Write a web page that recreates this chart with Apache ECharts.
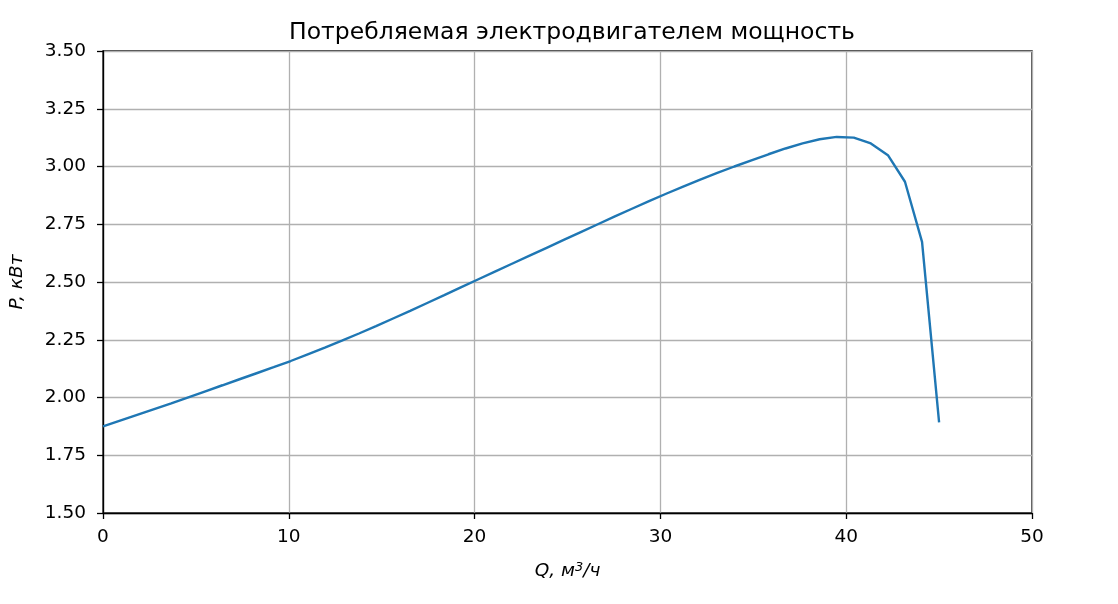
<!DOCTYPE html>
<html>
<head>
<meta charset="utf-8">
<script src="https://cdn.jsdelivr.net/npm/echarts@6/dist/echarts.min.js"></script>
<style>
html,body{margin:0;padding:0;background:#fff;}
#chart{width:1118px;height:604px;}
</style>
</head>
<body>
<div id="chart"></div>
<script>
const chartTitle = 'Потребляемая электродвигателем мощность';
const xTicks = [0, 10, 20, 30, 40, 50];
const yTicks = ['1.50','1.75','2.00','2.25','2.50','2.75','3.00','3.25','3.50'];
const qValues = [0.000, 0.918, 1.837, 2.755, 3.673, 4.592, 5.510, 6.429, 7.347, 8.265,
  9.184, 10.102, 11.020, 11.939, 12.857, 13.776, 14.694, 15.612, 16.531, 17.449,
  18.367, 19.286, 20.204, 21.122, 22.041, 22.959, 23.878, 24.796, 25.714, 26.633,
  27.551, 28.469, 29.388, 30.306, 31.224, 32.143, 33.061, 33.980, 34.898, 35.816,
  36.735, 37.653, 38.571, 39.490, 40.408, 41.327, 42.245, 43.163, 44.082, 45.000];
const pValues = [1.875, 1.900, 1.925, 1.950, 1.975, 2.001, 2.027, 2.053, 2.079, 2.105,
  2.131, 2.158, 2.187, 2.216, 2.246, 2.277, 2.309, 2.342, 2.375, 2.409,
  2.443, 2.478, 2.512, 2.546, 2.580, 2.614, 2.648, 2.682, 2.716, 2.750,
  2.784, 2.817, 2.850, 2.882, 2.913, 2.943, 2.972, 3.000, 3.027, 3.053,
  3.078, 3.100, 3.118, 3.128, 3.125, 3.100, 3.049, 2.934, 2.674, 1.892];

const seriesData = qValues.map((q, i) => [q, pValues[i]]);
const font = 'DejaVu Sans';
const chart = echarts.init(document.getElementById('chart'), null, {renderer: 'canvas'});
chart.setOption({
  animation: false,
  backgroundColor: '#ffffff',
  title: {
    text: chartTitle,
    left: 567, top: 16, textAlign: 'center',
    textStyle: {fontFamily: font, fontSize: 23.5, fontWeight: 'normal', color: '#000'}
  },
  grid: {left: 103, right: 86, top: 51, bottom: 91, show: true, borderColor: '#000', borderWidth: 1.3, backgroundColor: 'transparent'},
  xAxis: {
    type: 'value', min: xTicks[0], max: xTicks[xTicks.length - 1], interval: 10,
    name: '{i|Q, м}{s|3}{i|/ч}', nameLocation: 'middle', nameGap: 48,
    nameTextStyle: {fontFamily: font, fontSize: 18.5, color: '#000',
      rich: {i: {fontFamily: font, fontSize: 18.5, fontStyle: 'italic', color: '#000'},
             s: {fontFamily: font, fontSize: 13, fontStyle: 'italic', color: '#000', verticalAlign: 'top', padding: [0,0,8,0]}}},
    axisLine: {show: true, lineStyle: {color: '#000', width: 1.3}},
    axisTick: {show: true, inside: false, length: 6, lineStyle: {color: '#000', width: 1.3}},
    axisLabel: {fontFamily: font, fontSize: 18.5, color: '#000', margin: 15},
    splitLine: {show: true, lineStyle: {color: '#b0b0b0', width: 1.3}}
  },
  yAxis: {
    type: 'value', min: 1.5, max: 3.5, interval: 0.25,
    name: 'P, кВт', nameLocation: 'middle', nameGap: 76, nameRotate: 90,
    nameTextStyle: {fontFamily: font, fontSize: 18.5, fontStyle: 'italic', color: '#000'},
    axisLine: {show: true, lineStyle: {color: '#000', width: 1.3}},
    axisTick: {show: true, inside: false, length: 6, lineStyle: {color: '#000', width: 1.3}},
    axisLabel: {fontFamily: font, fontSize: 18.5, color: '#000', margin: 17,
      formatter: v => yTicks.find(t => Math.abs(parseFloat(t) - v) < 1e-6) || v.toFixed(2)},
    splitLine: {show: true, lineStyle: {color: '#b0b0b0', width: 1.3}}
  },
  series: [{
    type: 'line', data: seriesData, showSymbol: false, smooth: false,
    lineStyle: {color: '#1f77b4', width: 2.4}, itemStyle: {color: '#1f77b4'}
  }]
});
</script>
</body>
</html>
